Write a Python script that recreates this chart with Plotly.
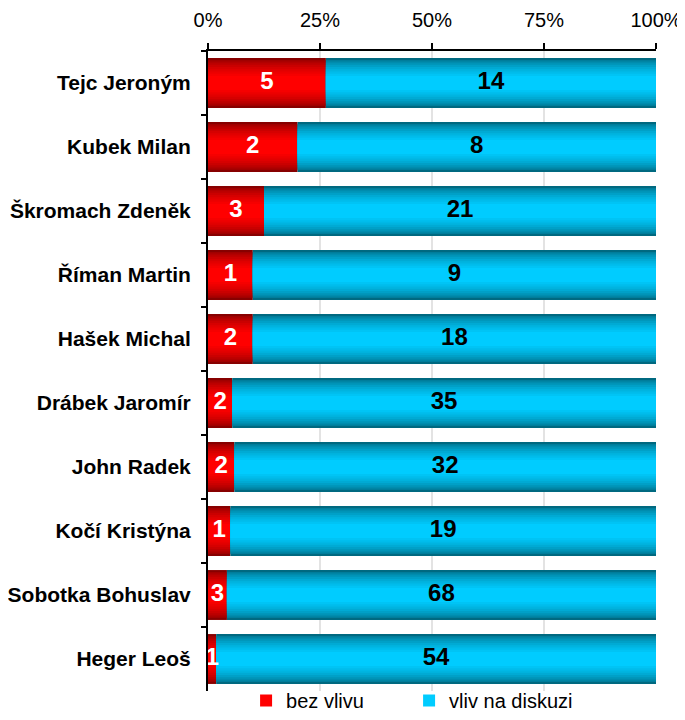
import plotly.graph_objects as go

names = ["Tejc Jeroným", "Kubek Milan", "Škromach Zdeněk", "Říman Martin", "Hašek Michal",
         "Drábek Jaromír", "John Radek", "Kočí Kristýna", "Sobotka Bohuslav", "Heger Leoš"]
bez_vlivu = [5, 2, 3, 1, 2, 2, 2, 1, 3, 1]
vliv_na_diskuzi = [14, 8, 21, 9, 18, 35, 32, 19, 68, 54]
series_names = ["bez vlivu", "vliv na diskuzi"]
tick_vals = [0, 25, 50, 75, 100]
tick_text = ["0%", "25%", "50%", "75%", "100%"]

totals = [a + b for a, b in zip(bez_vlivu, vliv_na_diskuzi)]
p_red = [100 * a / t for a, t in zip(bez_vlivu, totals)]
p_cyan = [100 * b / t for b, t in zip(vliv_na_diskuzi, totals)]

FONT = "Arial, Liberation Sans, sans-serif"

def lerp(c1, c2, t):
    return "rgb(%d,%d,%d)" % tuple(round(a + (b - a) * t) for a, b in zip(c1, c2))

red_edge, red_mid = (135, 0, 0), (255, 0, 0)
cyan_edge, cyan_mid = (0, 105, 128), (0, 204, 255)

fig = go.Figure()
N = 9
BW = 0.78
for k, (vals, base, edge, mid, nm) in enumerate([
        (p_red, [0] * len(names), red_edge, red_mid, series_names[0]),
        (p_cyan, p_red, cyan_edge, cyan_mid, series_names[1])]):
    for i in range(N):
        t = i / (N - 1)
        w = BW * (1 - 0.72 * t)
        col = lerp(edge, mid, min(1, t ** 0.6))
        fig.add_trace(go.Bar(
            y=names, x=vals, base=base, orientation="h", width=w,
            marker=dict(color=col, line=dict(width=0)),
            name=nm, showlegend=(i == N - 1), legendrank=k + 1,
            hoverinfo="skip",
        ))

fig.add_trace(go.Scatter(
    y=names, x=[p / 2 for p in p_red], mode="text",
    text=[str(v) for v in bez_vlivu],
    textfont=dict(family=FONT, size=24, color="white", weight="bold"),
    showlegend=False, cliponaxis=False, hoverinfo="skip"))
fig.add_trace(go.Scatter(
    y=names, x=[(p + 100) / 2 for p in p_red], mode="text",
    text=[str(v) for v in vliv_na_diskuzi],
    textfont=dict(family=FONT, size=24, color="black", weight="bold"),
    showlegend=False, cliponaxis=False, hoverinfo="skip"))

# page body has an 8px margin, so the figure is 8px smaller and margins shifted
fig.update_layout(
    width=677, height=712,
    margin=dict(l=200, r=29, t=43, b=29, autoexpand=False),
    barmode="overlay",
    plot_bgcolor="white", paper_bgcolor="white",
    font=dict(family=FONT, size=20, color="black"),
    showlegend=True,
    legend=dict(orientation="h", x=0.085, xanchor="left", y=-29 / 640, yanchor="bottom",
                entrywidth=118, entrywidthmode="pixels",
                font=dict(family=FONT, size=20, color="black"),
                bgcolor="rgba(0,0,0,0)", traceorder="normal"),
    xaxis=dict(side="top", range=[0, 100], tickvals=tick_vals, ticktext=tick_text,
               showgrid=True, gridcolor="#e3e3e3", gridwidth=2,
               showline=True, linecolor="black", linewidth=2,
               ticks="outside", ticklen=6, tickcolor="black", tickwidth=2,
               tickfont=dict(family=FONT, size=20), ticklabelstandoff=8,
               zeroline=False, fixedrange=True, automargin=False),
    yaxis=dict(categoryorder="array", categoryarray=names, autorange="reversed",
               showline=True, linecolor="black", linewidth=2,
               ticks="outside", ticklen=5, tickcolor="black", tickwidth=2, tickson="boundaries",
               tickfont=dict(family=FONT, size=21, weight="bold"), ticklabelstandoff=11,
               showgrid=False, fixedrange=True, automargin=False),
)

fig.write_html("out.html")
